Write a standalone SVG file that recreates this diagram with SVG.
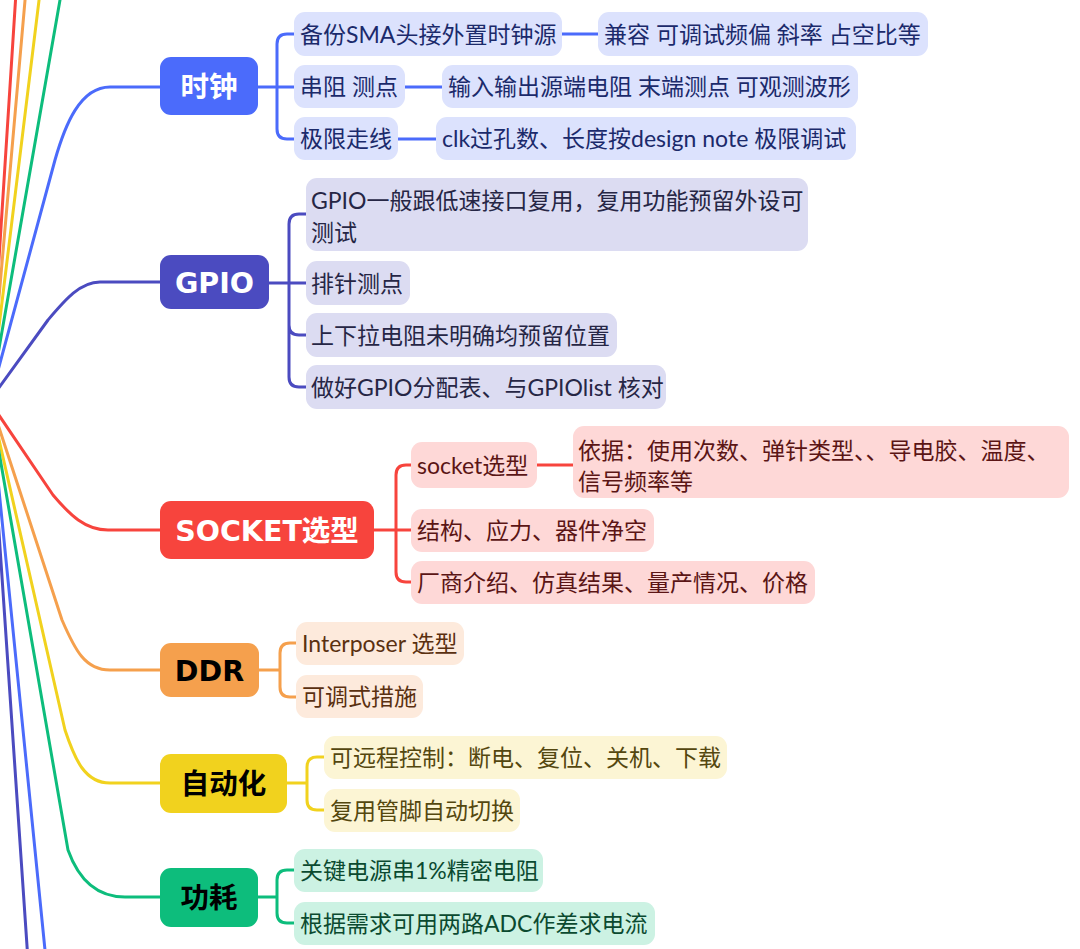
<svg xmlns="http://www.w3.org/2000/svg" width="1080" height="949" viewBox="0 0 1080 949">
<style>
.c{fill:none;stroke-width:3;stroke-linecap:round;stroke-linejoin:round}
.t{font-family:"Lato","Noto Sans CJK SC",sans-serif;font-size:23px}
.b{font-family:"DejaVu Sans","Noto Sans CJK SC",sans-serif;font-size:28.5px;font-weight:bold;text-anchor:middle}
.blue{stroke:#4B6BFB}.ind{stroke:#4B4BC0}.red{stroke:#F7443D}.org{stroke:#F5A04D}.yel{stroke:#F1D21E}.grn{stroke:#0DBD7C}
.sb{fill:#DCE2FD}.si{fill:#DCDCF2}.sr{fill:#FED8D7}.so{fill:#FDEADC}.sy{fill:#FCF5D4}.sg{fill:#CCF2E3}
.tb{fill:#1B2A6B}.ti{fill:#262645}.tr{fill:#5B1515}.to{fill:#5A3010}.ty{fill:#54470F}.tg{fill:#0B4A30}
</style>
<rect width="1080" height="949" fill="#FFFFFF"/>
<g id="connectors">
  <path class="c red" d="M -10 400 L 16.8 -20"/>
  <path class="c org" d="M -10 400 L 26.8 -20"/>
  <path class="c yel" d="M -10 400 L 41.5 -20"/>
  <path class="c grn" d="M -10 400 L 63.5 -20"/>
  <path class="c ind" d="M -10 400 L 30 990"/>
  <path class="c blue" d="M -10 400 L 49 990"/>
  <path class="c blue" d="M 160 87 H 110 C 80 87 65 125 55 160 L -10 400"/>
  <path class="c ind" d="M 160 282 H 100 C 80 282 65 300 48 320 L -10 400"/>
  <path class="c red" d="M 160 530 H 108 C 85 530 70 515 53 495 L -10 402"/>
  <path class="c org" d="M 160 670 H 110 C 85 670 75 650 62 620 L -10 400"/>
  <path class="c yel" d="M 160 783 H 110 C 85 783 75 760 65 730 L -10 400"/>
  <path class="c grn" d="M 160 897 H 125 C 95 897 78 878 68 850 L -10 400"/>
  <path class="c blue" d="M 258 87 H 294 M 294 34 H 287 Q 277 34 277 44 V 129 Q 277 139 287 139 H 294 M 562 34 H 598 M 405 87 H 442 M 398 139 H 436"/>
  <path class="c ind" d="M 269 283 H 306 M 306 214 H 299 Q 289 214 289 224 V 377 Q 289 387 299 387 H 306 M 289 325 Q 289 335 299 335 H 306"/>
  <path class="c red" d="M 374 530 H 411 M 411 465 H 406 Q 396 465 396 475 V 572 Q 396 582 406 582 H 411 M 537 465 H 573"/>
  <path class="c org" d="M 259 670 H 280 M 296 643 H 290 Q 280 643 280 653 V 687 Q 280 697 290 697 H 296"/>
  <path class="c yel" d="M 287 783 H 307 M 324 757 H 317 Q 307 757 307 767 V 800 Q 307 810 317 810 H 324"/>
  <path class="c grn" d="M 258 897 H 277 M 294 870 H 287 Q 277 870 277 880 V 913 Q 277 923 287 923 H 294"/>
</g>
<g id="n-clock"><rect x="160" y="57" width="98" height="58" rx="11" fill="#4B6BFB"/><text class="b" x="209" y="97" fill="#FFFFFF">时钟</text></g>
<g id="n-clock-1"><rect class="sb" x="294" y="12" width="268" height="44" rx="11"/><text class="t tb" x="300" y="42.5">备份SMA头接外置时钟源</text></g>
<g id="n-clock-1-1"><rect class="sb" x="598" y="12" width="330" height="44" rx="11"/><text class="t tb" x="604" y="42.5">兼容 可调试频偏 斜率 占空比等</text></g>
<g id="n-clock-2"><rect class="sb" x="294" y="65" width="111" height="43" rx="11"/><text class="t tb" x="300" y="95">串阻 测点</text></g>
<g id="n-clock-2-1"><rect class="sb" x="442" y="65" width="416" height="43" rx="11"/><text class="t tb" x="448" y="95">输入输出源端电阻 末端测点 可观测波形</text></g>
<g id="n-clock-3"><rect class="sb" x="294" y="117" width="104" height="43" rx="11"/><text class="t tb" x="300" y="147">极限走线</text></g>
<g id="n-clock-3-1"><rect class="sb" x="436" y="117" width="420" height="43" rx="11"/><text class="t tb" x="442" y="147">clk过孔数、长度按design note 极限调试</text></g>

<g id="n-gpio"><rect x="160" y="255" width="109" height="54" rx="11" fill="#4B4BC0"/><text class="b" x="214.5" y="292.5" fill="#FFFFFF">GPIO</text></g>
<g id="n-gpio-1"><rect class="si" x="306" y="178" width="502" height="73" rx="11"/><text class="t ti" x="311" y="208.5">GPIO一般跟低速接口复用，复用功能预留外设可</text><text class="t ti" x="311" y="240.5">测试</text></g>
<g id="n-gpio-2"><rect class="si" x="306" y="261" width="104" height="44" rx="11"/><text class="t ti" x="311" y="291.5">排针测点</text></g>
<g id="n-gpio-3"><rect class="si" x="306" y="313" width="311" height="44" rx="11"/><text class="t ti" x="311" y="343.5">上下拉电阻未明确均预留位置</text></g>
<g id="n-gpio-4"><rect class="si" x="306" y="365" width="360" height="44" rx="11"/><text class="t ti" x="311" y="395.5">做好GPIO分配表、与GPIOlist 核对</text></g>

<g id="n-socket"><rect x="160" y="501" width="214" height="58" rx="11" fill="#F7443D"/><text class="b" x="267" y="541" fill="#FFFFFF">SOCKET选型</text></g>
<g id="n-socket-1"><rect class="sr" x="411" y="442" width="126" height="46" rx="11"/><text class="t tr" x="417" y="473.5">socket选型</text></g>
<g id="n-socket-1-1"><rect class="sr" x="573" y="426" width="496" height="72" rx="11"/><text class="t tr" x="578" y="458.5">依据：使用次数、弹针类型、、导电胶、温度、</text><text class="t tr" x="578" y="489.5">信号频率等</text></g>
<g id="n-socket-2"><rect class="sr" x="411" y="509" width="243" height="43" rx="11"/><text class="t tr" x="417" y="539">结构、应力、器件净空</text></g>
<g id="n-socket-3"><rect class="sr" x="411" y="561" width="404" height="43" rx="11"/><text class="t tr" x="417" y="591">厂商介绍、仿真结果、量产情况、价格</text></g>

<g id="n-ddr"><rect x="160" y="643" width="99" height="54" rx="11" fill="#F5A04D"/><text class="b" x="209.5" y="680.5" fill="#000000">DDR</text></g>
<g id="n-ddr-1"><rect class="so" x="296" y="622" width="168" height="43" rx="11"/><text class="t to" x="302" y="652">Interposer 选型</text></g>
<g id="n-ddr-2"><rect class="so" x="296" y="675" width="127" height="43" rx="11"/><text class="t to" x="302" y="705">可调式措施</text></g>

<g id="n-auto"><rect x="160" y="754" width="127" height="59" rx="11" fill="#F1D21E"/><text class="b" x="223.5" y="794" fill="#000000">自动化</text></g>
<g id="n-auto-1"><rect class="sy" x="324" y="736" width="403" height="43" rx="11"/><text class="t ty" x="330" y="766">可远程控制：断电、复位、关机、下载</text></g>
<g id="n-auto-2"><rect class="sy" x="324" y="789" width="196" height="43" rx="11"/><text class="t ty" x="330" y="819">复用管脚自动切换</text></g>

<g id="n-power"><rect x="160" y="868" width="98" height="59" rx="11" fill="#0DBD7C"/><text class="b" x="209" y="908" fill="#000000">功耗</text></g>
<g id="n-power-1"><rect class="sg" x="294" y="849" width="249" height="43" rx="11"/><text class="t tg" x="300" y="879">关键电源串1%精密电阻</text></g>
<g id="n-power-2"><rect class="sg" x="294" y="902" width="361" height="43" rx="11"/><text class="t tg" x="300" y="932">根据需求可用两路ADC作差求电流</text></g>
</svg>
